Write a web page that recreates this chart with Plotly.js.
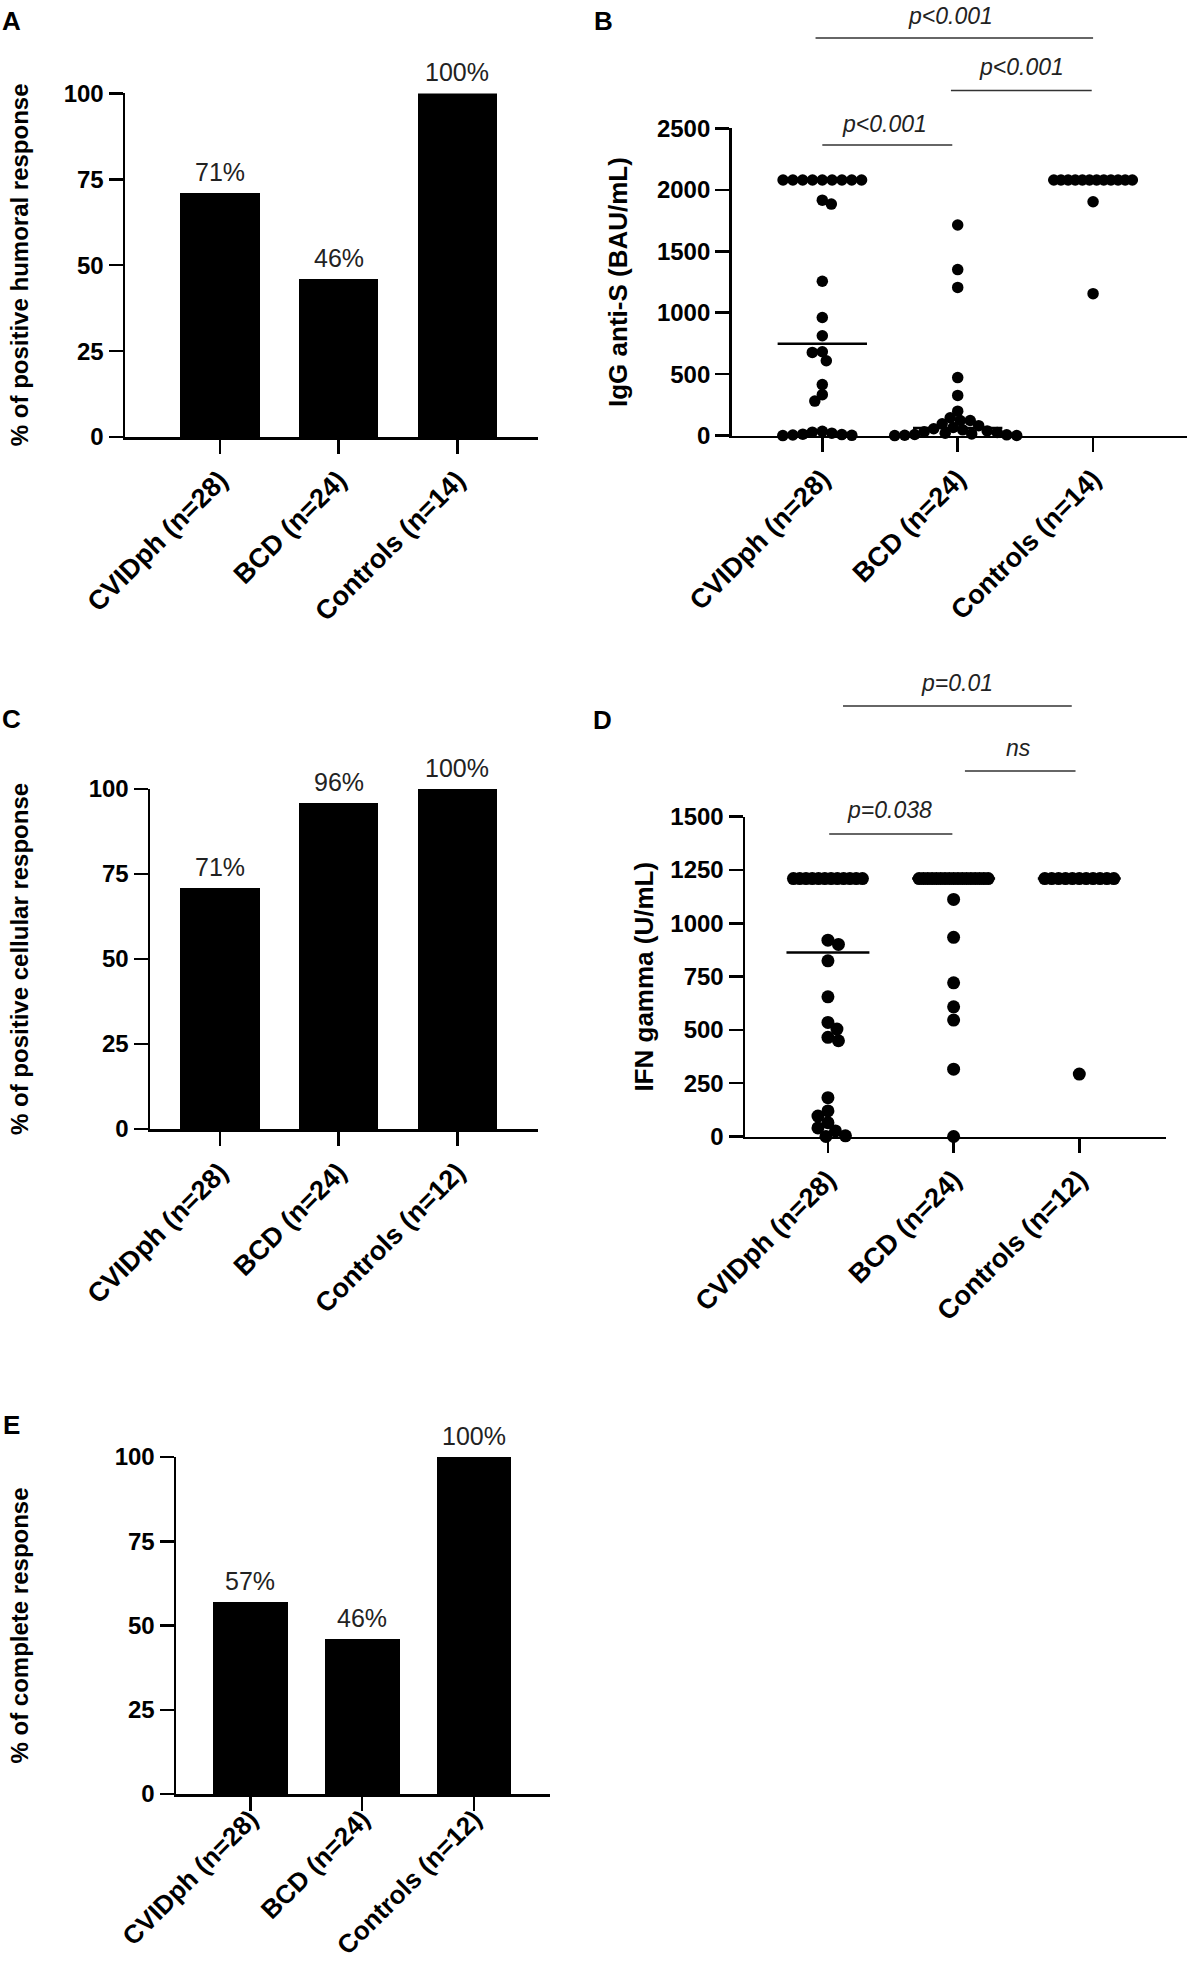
<!DOCTYPE html>
<html>
<head>
<meta charset="utf-8">
<script src="https://cdn.plot.ly/plotly-3.0.1.min.js"></script>
<style>html,body{margin:0;padding:0;background:#fff;}#chart{width:1189px;height:1963px;}</style>
</head>
<body>
<div id="chart"></div>
<script>
// ---------------- DATA ----------------
const groups14 = ['CVIDph (n=28)', 'BCD (n=24)', 'Controls (n=14)'];
const groups12 = ['CVIDph (n=28)', 'BCD (n=24)', 'Controls (n=12)'];

const humoralPct = [71, 46, 100];
const cellularPct = [71, 96, 100];
const completePct = [57, 46, 100];

const iggCap = 2080;
const iggCVIDph = [2080,2080,2080,2080,2080,2080,2080,2080,2080, 1916,1884,1256,961,813,682,677,609,415,333,281, 35,28,20,12,8,5,2,0];
const iggBCD = [1714,1351,1206,472,327,199,145,123,123,96,81, 66,56,47,38,31,25,19,14,9,6,3,1,0];
const iggControls = [2080,2080,2080,2080,2080,2080,2080,2080,2080,2080,2080,2080, 1903,1155];

const ifnCap = 1210;
const ifnCVIDph = [1210,1210,1210,1210,1210,1210,1210,1210,1210,1210,1210,1210, 921,901,824,655,535,504,465,449,182,120,96,65,40,26,3,0];
const ifnBCD = [1210,1210,1210,1210,1210,1210,1210,1210,1210,1210,1210,1210,1210,1210,1210,1210,1210, 1112,934,721,608,546,316,0];
const ifnControls = [1210,1210,1210,1210,1210,1210,1210,1210,1210,1210,1210, 293];

const iggTicks = [0, 500, 1000, 1500, 2000, 2500];
const ifnTicks = [0, 250, 500, 750, 1000, 1250, 1500];
const pctTicks = [0, 25, 50, 75, 100];

// ---------------- LAYOUT GEOMETRY (px) ----------------
const W = 1189, H = 1963;
const FONT = 'Liberation Sans, Arial, Helvetica, sans-serif';
const P = {
  A: {x0:125, x1:538, xr:[-0.8, 2.68], yb:437, yt:93.4, yr:[0,100], lab:0, lf:27},
  B: {x0:731.6, x1:1186.5, xr:[-0.67, 2.69], yb:435.6, yt:128.4, yr:[0,2500], lab:0, lf:27},
  C: {x0:150, x1:538, xr:[-0.59, 2.68], yb:1129, yt:789, yr:[0,100], lab:0, lf:27},
  D: {x0:745, x1:1166, xr:[-0.66, 2.69], yb:1136.5, yt:816.7, yr:[0,1500], lab:0, lf:27},
  E: {x0:176, x1:550, xr:[-0.665, 2.68], yb:1794, yt:1457, yr:[0,100], lab:-17, lf:26}
};
function kx(p){ return (p.x1 - p.x0) / (p.xr[1] - p.xr[0]); }
function ky(p){ return (p.yb - p.yt) / (p.yr[1] - p.yr[0]); }

function xAxis(p, labels, anchor){
  return {domain:[p.x0/W, p.x1/W], range:p.xr, anchor:anchor, showline:true, linecolor:'#000', linewidth:2.5,
    ticks:'outside', ticklen:14, tickwidth:2.5, tickcolor:'#000', showgrid:false, zeroline:false,
    tickmode:'array', tickvals:[0,1,2], ticktext:labels, tickangle:-45, fixedrange:true,
    ticklabelstandoff:p.lab,
    tickfont:{family:FONT, size:p.lf, color:'#000', weight:'bold'}};
}
function yAxis(p, ticks, anchor){
  return {domain:[1 - p.yb/H, 1 - p.yt/H], range:p.yr, anchor:anchor, showline:true, linecolor:'#000', linewidth:2.5,
    ticks:'outside', ticklen:14, tickwidth:2.5, tickcolor:'#000', showgrid:false, zeroline:false,
    tickmode:'array', tickvals:ticks, fixedrange:true,
    tickfont:{family:FONT, size:24, color:'#000', weight:'bold'}};
}

// deterministic beeswarm in pixel space
function swarm(vals, cap, d, rowW, kxv, kyv){
  const capN = vals.filter(v => v === cap).length;
  const pts = [];
  const s = capN > 1 ? Math.min(d, (rowW - d) / (capN - 1)) : 0;
  for (let i = 0; i < capN; i++) pts.push({v:cap, px:(i - (capN - 1)/2) * s, py:cap * kyv});
  const rest = vals.filter(v => v !== cap).sort((a, b) => b - a);
  const minD = d * 0.84;
  rest.forEach((v, idx) => {
    const py = v * kyv;
    let best = null;
    for (let k = 0; k < 400 && best === null; k += 0.5) {
      const cands = idx % 2 ? [k, -k] : [-k, k];
      for (const c of cands) {
        if (pts.every(q => Math.hypot(q.px - c, q.py - py) >= minD)) { best = c; break; }
      }
    }
    pts.push({v:v, px:best, py:py});
  });
  return {dx: pts.map(q => q.px / kxv), y: pts.map(q => q.v)};
}
function median(a){
  const s = a.slice().sort((x, y) => x - y); const n = s.length;
  return n % 2 ? s[(n-1)/2] : (s[n/2 - 1] + s[n/2]) / 2;
}

const traces = [];
const annotations = [];
const shapes = [];

function barPanel(pct, xa, ya){
  traces.push({type:'bar', x:[0,1,2], y:pct, width:0.67, marker:{color:'#000', line:{width:0}},
    xaxis:xa, yaxis:ya, hoverinfo:'skip', cliponaxis:false});
  pct.forEach((v, i) => annotations.push({xref:xa, yref:ya, x:i, y:v, text:v + '%', showarrow:false,
    yanchor:'bottom', yshift:5, font:{family:FONT, size:25, color:'#222'}}));
}
function dotPanel(p, sets, cap, d, rowW, xa, ya){
  const kxv = kx(p), kyv = ky(p);
  sets.forEach((vals, i) => {
    const m = median(vals);
    traces.push({type:'scatter', mode:'lines', x:[i - 0.33, i + 0.33], y:[m, m], xaxis:xa, yaxis:ya,
      line:{color:'#000', width:2.5}, hoverinfo:'skip'});
  });
  sets.forEach((vals, i) => {
    const sw = swarm(vals, cap, d, rowW, kxv, kyv);
    traces.push({type:'scatter', mode:'markers', x:sw.dx.map(o => i + o), y:sw.y, xaxis:xa, yaxis:ya,
      marker:{color:'#000', size:d, line:{width:0}}, cliponaxis:false, hoverinfo:'skip'});
  });
}

barPanel(humoralPct, 'x', 'y');
dotPanel(P.B, [iggCVIDph, iggBCD, iggControls], iggCap, 11.5, 90, 'x2', 'y2');
barPanel(cellularPct, 'x3', 'y3');
dotPanel(P.D, [ifnCVIDph, ifnBCD, ifnControls], ifnCap, 13, 82, 'x4', 'y4');
barPanel(completePct, 'x5', 'y5');

// significance bars
function sig(xa, x0, x1, ypx, text, tx, typx){
  shapes.push({type:'line', xref:xa, yref:'paper', x0:x0, x1:x1, y0:1 - ypx/H, y1:1 - ypx/H,
    line:{color:'#333', width:1.6}});
  annotations.push({xref:xa, yref:'paper', x:tx, y:1 - typx/H, text:text, showarrow:false,
    xanchor:'center', yanchor:'middle', font:{family:FONT, size:23, color:'#222', style:'italic'}});
}
sig('x2', -0.05, 2.0, 38, 'p&lt;0.001', 0.95, 16);
sig('x2', 0.95, 1.99, 90.5, 'p&lt;0.001', 1.47, 67);
sig('x2', 0.0, 0.96, 145, 'p&lt;0.001', 0.46, 124);
sig('x4', 0.12, 1.94, 706, 'p=0.01', 1.03, 683);
sig('x4', 0.01, 0.99, 834, 'p=0.038', 0.49, 810);
sig('x4', 1.09, 1.97, 771, 'ns', 1.52, 748);

// y titles
function ytitle(text, xpx, p, size){
  annotations.push({xref:'paper', yref:'paper', x:xpx/W, y:1 - ((p.yb + p.yt)/2)/H, text:text, textangle:-90,
    showarrow:false, xanchor:'center', yanchor:'middle', font:{family:FONT, size:size, color:'#000', weight:'bold'}});
}
ytitle('% of positive humoral response', 19, P.A, 24);
ytitle('IgG anti-S (BAU/mL)', 618, P.B, 26);
ytitle('% of positive cellular response', 19, P.C, 24);
ytitle('IFN gamma (U/mL)', 644, P.D, 26);
ytitle('% of complete response', 19, P.E, 24);

// panel letters
[['A',11,21],['B',603,21],['C',11,719],['D',602,720],['E',11,1425]].forEach(l => {
  annotations.push({xref:'paper', yref:'paper', x:l[1]/W, y:1 - l[2]/H, text:l[0], showarrow:false,
    xanchor:'center', yanchor:'middle', font:{family:FONT, size:26, color:'#000', weight:'bold'}});
});

const layout = {
  width:W, height:H, margin:{l:0, r:0, t:0, b:0}, paper_bgcolor:'#fff', plot_bgcolor:'rgba(0,0,0,0)',
  showlegend:false, font:{family:FONT, color:'#000'}, bargap:0,
  xaxis: xAxis(P.A, groups14, 'y'), yaxis: yAxis(P.A, pctTicks, 'x'),
  xaxis2: xAxis(P.B, groups14, 'y2'), yaxis2: yAxis(P.B, iggTicks, 'x2'),
  xaxis3: xAxis(P.C, groups12, 'y3'), yaxis3: yAxis(P.C, pctTicks, 'x3'),
  xaxis4: xAxis(P.D, groups12, 'y4'), yaxis4: yAxis(P.D, ifnTicks, 'x4'),
  xaxis5: xAxis(P.E, groups12, 'y5'), yaxis5: yAxis(P.E, pctTicks, 'x5'),
  annotations: annotations, shapes: shapes
};
Plotly.newPlot('chart', traces, layout, {staticPlot:true, displayModeBar:false});
</script>
</body>
</html>
